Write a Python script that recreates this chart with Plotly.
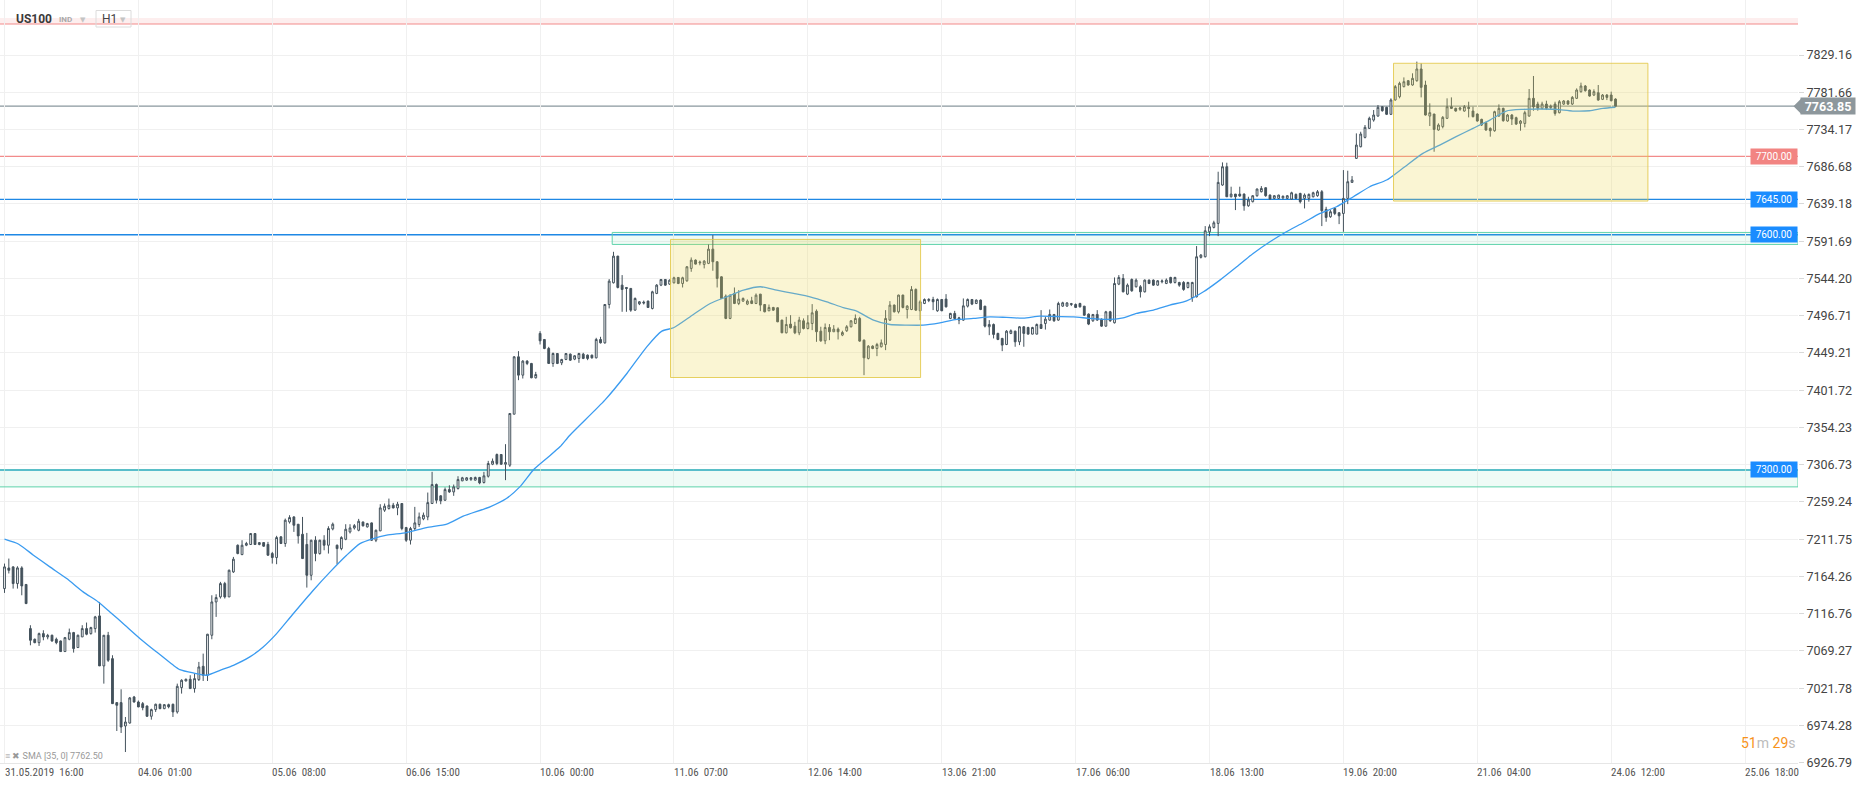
import plotly.graph_objects as go

# ---------------- data ----------------
open_ = [
 7148.7,7175.0,7176.4,7155.1,7175.1,7154.0,7097.7,7084.1,7079.8,7091.3,
 7087.0,7089.2,7084.1,7081.9,7068.4,7084.1,7092.6,7073.5,7087.1,7097.7,
 7091.3,7097.7,7113.9,7050.1,7089.2,7059.4,7003.3,7003.3,6973.5,6977.3,
 7010.5,7004.1,7002.0,6999.0,6985.9,6994.4,7001.2,6995.6,7000.7,7001.2,
 6991.4,7022.4,7030.9,7033.1,7021.2,7032.6,7049.6,7038.2,7089.2,7131.7,
 7138.1,7155.1,7138.1,7170.0,7204.0,7192.1,7204.0,7204.9,7218.9,7204.9,
 7207.4,7205.0,7193.4,7188.3,7214.7,7206.2,7233.7,7240.1,7230.8,7218.0,
 7205.0,7165.7,7210.4,7193.4,7210.4,7204.0,7224.8,7204.0,7199.7,7211.6,
 7221.0,7226.0,7223.1,7233.7,7227.4,7232.5,7210.4,7222.3,7248.7,7250.8,
 7255.1,7251.6,7257.2,7226.5,7210.4,7225.3,7230.4,7237.6,7240.1,7257.2,
 7281.4,7267.0,7261.4,7275.0,7272.0,7276.3,7286.1,7287.0,7288.0,7287.0,
 7290.4,7284.0,7292.0,7307.3,7319.7,7319.7,7307.3,7306.1,7371.1,7444.3,
 7420.9,7438.8,7435.8,7417.5,7474.1,7466.4,7454.9,7435.8,7448.5,7436.6,
 7440.9,7447.7,7441.3,7442.2,7447.7,7446.4,7446.4,7443.0,7466.4,7462.1,
 7511.0,7538.7,7572.7,7535.7,7532.7,7531.5,7503.8,7511.9,7514.0,7515.3,
 7505.9,7525.1,7535.7,7542.9,7537.0,7538.7,7545.5,7537.8,7541.2,7557.0,
 7567.6,7564.0,7562.1,7563.4,7581.6,7565.5,7546.3,7521.7,7493.2,7525.1,
 7512.3,7515.3,7511.5,7515.7,7512.3,7524.2,7511.0,7503.0,7507.2,7506.8,
 7491.1,7474.9,7486.0,7483.4,7474.9,7490.2,7480.4,7486.8,7502.5,7477.0,
 7464.7,7481.7,7476.2,7479.6,7472.0,7477.5,7482.6,7486.8,7493.2,7465.5,
 7442.2,7457.9,7454.9,7457.1,7460.0,7491.1,7510.2,7501.7,7523.0,7504.6,
 7504.6,7530.2,7503.0,7512.3,7516.0,7517.4,7503.0,7517.4,7517.9,7493.2,
 7499.6,7494.0,7491.1,7508.9,7517.4,7512.3,7516.6,7508.9,7482.6,7485.5,
 7474.1,7467.7,7460.0,7474.1,7477.0,7463.4,7482.6,7481.7,7473.2,7473.2,
 7485.5,7486.8,7491.1,7498.3,7491.1,7508.9,7509.0,7511.0,7511.0,7512.3,
 7508.9,7498.7,7490.2,7498.3,7492.3,7483.4,7501.7,7487.7,7537.0,7544.2,
 7524.2,7542.9,7533.6,7533.6,7527.2,7542.1,7542.1,7535.7,7540.0,7537.8,
 7545.5,7539.1,7539.1,7539.1,7532.7,7519.9,7520.8,7571.1,7571.9,7603.7,
 7609.3,7614.4,7663.3,7686.7,7648.4,7651.8,7651.8,7651.8,7636.9,7642.1,
 7649.7,7654.8,7659.9,7650.5,7646.3,7646.3,7647.0,7646.3,7645.4,7651.4,
 7652.6,7646.3,7646.3,7648.4,7649.7,7654.8,7632.3,7622.9,7633.5,7628.0,
 7627.1,7646.3,7666.7,7697.3,7712.2,7724.1,7735.6,7746.2,7751.3,7763.2,
 7762.4,7753.5,7771.8,7776.0,7788.8,7796.4,7790.9,7796.4,7811.3,7790.9,
 7751.3,7753.9,7733.5,7737.8,7748.4,7763.2,7761.1,7760.0,7757.7,7762.4,
 7757.7,7753.9,7747.1,7742.8,7735.6,7732.6,7751.3,7761.1,7745.0,7752.6,
 7749.2,7741.9,7741.9,7751.3,7773.9,7766.6,7761.1,7766.6,7762.0,7766.6,
 7755.6,7766.6,7770.5,7766.6,7773.9,7782.4,7789.6,7784.5,7778.1,7781.1,
 7772.6,7778.1,7778.1,7773.0]

high = [
 7180.6,7187.0,7177.2,7177.2,7177.2,7154.5,7102.0,7085.0,7092.6,7095.6,
 7091.0,7090.0,7086.2,7082.5,7087.0,7097.7,7093.5,7090.0,7102.0,7105.4,
 7100.0,7113.9,7131.7,7089.5,7093.5,7063.7,7003.5,7020.3,6985.0,7010.5,
 7011.8,7006.0,7004.1,6999.5,6995.6,7002.0,7002.0,7001.5,7002.0,7002.0,
 7027.5,7033.1,7033.9,7038.2,7040.3,7055.2,7065.8,7091.0,7140.2,7141.5,
 7157.3,7157.3,7173.0,7189.1,7205.0,7210.4,7208.3,7219.5,7219.5,7208.0,
 7208.0,7208.3,7195.5,7216.0,7215.5,7238.0,7242.3,7241.0,7231.0,7240.1,
 7219.7,7211.0,7215.5,7211.0,7216.8,7228.2,7232.9,7204.9,7215.5,7230.8,
 7230.8,7231.0,7237.6,7234.0,7232.5,7233.0,7224.0,7256.3,7257.2,7263.5,
 7258.0,7259.3,7257.5,7227.4,7227.4,7252.9,7245.7,7245.7,7271.2,7297.6,
 7282.7,7267.8,7277.6,7280.5,7281.4,7292.0,7291.2,7291.0,7291.0,7291.5,
 7291.2,7297.6,7311.6,7314.6,7321.0,7320.0,7332.9,7372.3,7445.1,7451.5,
 7440.0,7440.0,7436.5,7425.1,7477.0,7467.0,7457.0,7449.8,7449.0,7441.7,
 7449.0,7448.5,7446.4,7449.4,7449.4,7447.3,7447.0,7468.5,7469.8,7511.5,
 7543.4,7578.2,7573.0,7548.5,7533.0,7532.0,7520.0,7515.3,7516.0,7516.0,
 7528.5,7537.0,7543.4,7543.5,7543.0,7546.4,7546.0,7546.4,7560.0,7571.0,
 7568.5,7567.0,7567.6,7587.6,7599.5,7566.0,7547.0,7523.8,7523.8,7532.7,
 7529.3,7520.0,7517.4,7520.8,7525.1,7524.5,7511.5,7511.0,7508.0,7507.2,
 7491.5,7495.3,7497.4,7488.9,7495.3,7493.2,7497.4,7511.5,7504.7,7482.6,
 7486.8,7486.0,7484.7,7481.7,7477.5,7484.7,7491.0,7498.3,7495.3,7466.4,
 7459.2,7459.0,7462.1,7466.4,7503.8,7515.3,7511.0,7523.5,7523.5,7510.2,
 7534.4,7531.5,7516.6,7518.7,7519.0,7520.8,7518.7,7518.0,7524.2,7500.4,
 7502.9,7495.3,7518.7,7518.7,7517.9,7517.4,7517.4,7509.0,7491.1,7486.8,
 7475.0,7468.5,7478.3,7479.2,7477.5,7483.4,7483.4,7482.6,7482.5,7486.8,
 7503.8,7495.3,7504.6,7498.5,7514.5,7514.5,7514.0,7513.0,7512.3,7513.2,
 7509.0,7499.6,7498.7,7503.8,7493.2,7502.9,7502.9,7545.5,7548.5,7549.8,
 7537.8,7544.2,7544.2,7535.7,7542.9,7542.9,7542.9,7542.1,7543.0,7544.2,
 7546.3,7546.3,7539.9,7540.8,7539.9,7539.9,7585.5,7575.3,7611.0,7613.1,
 7617.8,7680.3,7692.2,7691.8,7661.2,7652.0,7661.2,7652.6,7648.4,7650.5,
 7659.0,7662.0,7660.3,7651.4,7650.5,7651.0,7650.0,7650.5,7654.8,7652.6,
 7653.5,7652.6,7652.6,7654.8,7656.9,7656.9,7635.6,7631.4,7634.4,7628.4,
 7682.4,7681.6,7674.8,7729.2,7731.3,7739.9,7750.5,7759.0,7765.4,7764.1,
 7763.2,7773.9,7790.9,7795.1,7800.6,7797.3,7805.8,7820.7,7818.5,7796.4,
 7767.5,7754.0,7742.0,7751.3,7773.9,7775.1,7762.0,7763.0,7765.4,7769.6,
 7763.2,7754.7,7747.9,7744.1,7736.9,7758.1,7766.2,7762.0,7753.9,7753.9,
 7750.5,7746.2,7758.1,7785.8,7802.4,7769.6,7769.6,7770.9,7766.0,7769.6,
 7771.7,7771.7,7771.7,7776.8,7786.6,7793.9,7790.9,7785.4,7785.4,7790.9,
 7779.4,7779.4,7782.4,7773.9]

low = [
 7143.2,7168.0,7148.7,7148.7,7140.2,7129.0,7076.4,7079.0,7075.6,7082.8,
 7084.0,7081.0,7077.7,7068.0,7068.0,7082.8,7067.1,7073.0,7087.0,7089.2,
 7090.0,7092.6,7050.0,7027.5,7055.2,7001.5,6967.1,6964.6,6940.3,6976.5,
 7003.3,6997.5,6993.5,6985.0,6981.6,6991.4,6995.0,6995.0,6996.0,6985.0,
 6989.3,7014.8,7030.5,7021.0,7016.0,7030.9,7030.9,7030.9,7084.1,7112.6,
 7136.0,7136.0,7138.0,7168.7,7192.5,7191.3,7202.8,7204.5,7204.5,7204.0,
 7202.0,7190.5,7180.6,7179.8,7205.5,7202.0,7231.6,7221.0,7206.1,7186.5,
 7150.0,7159.3,7183.6,7192.0,7197.6,7193.4,7223.0,7179.8,7197.6,7210.4,
 7219.0,7224.0,7221.8,7228.0,7226.5,7209.5,7208.0,7222.0,7246.5,7249.5,
 7251.0,7242.3,7223.1,7208.3,7204.9,7223.1,7227.4,7235.9,7235.9,7257.0,
 7257.2,7256.3,7260.6,7270.8,7267.0,7275.0,7285.7,7286.0,7286.0,7286.5,
 7281.8,7282.7,7290.3,7306.1,7306.1,7306.5,7287.0,7303.9,7371.0,7414.5,
 7416.6,7433.7,7417.0,7416.6,7460.0,7454.0,7435.5,7431.5,7435.0,7433.7,
 7440.0,7439.0,7440.0,7436.6,7441.3,7440.0,7442.0,7442.2,7461.3,7461.0,
 7506.0,7537.8,7531.5,7501.7,7501.7,7501.7,7503.0,7510.2,7511.0,7506.5,
 7504.7,7524.2,7534.4,7535.0,7536.0,7537.8,7537.0,7532.7,7540.0,7552.7,
 7562.0,7561.0,7557.0,7562.5,7554.0,7532.7,7518.0,7492.3,7492.3,7511.5,
 7510.2,7514.5,7510.2,7511.5,7511.5,7502.5,7501.0,7502.5,7503.0,7488.5,
 7474.5,7474.1,7480.4,7473.2,7471.9,7479.2,7479.2,7478.3,7463.4,7463.4,
 7460.4,7465.5,7476.0,7466.4,7470.6,7476.0,7481.7,7486.0,7463.4,7420.9,
 7440.9,7454.0,7445.1,7456.2,7452.8,7490.2,7500.8,7499.6,7506.0,7493.2,
 7503.8,7502.9,7491.1,7511.5,7514.0,7503.8,7501.7,7502.5,7507.2,7492.3,
 7492.3,7485.9,7490.2,7507.2,7510.2,7511.5,7503.8,7481.7,7471.9,7467.7,
 7465.5,7451.5,7459.2,7473.2,7457.1,7459.2,7457.1,7473.0,7473.0,7473.0,
 7480.0,7479.0,7490.2,7488.9,7490.2,7508.0,7508.0,7509.0,7506.8,7507.2,
 7496.6,7484.7,7488.9,7490.2,7482.6,7482.6,7488.9,7486.8,7535.7,7526.4,
 7523.0,7527.2,7532.7,7519.9,7526.3,7537.0,7534.9,7534.9,7538.0,7537.0,
 7537.8,7537.8,7533.6,7528.5,7531.5,7514.4,7520.0,7569.7,7571.0,7598.2,
 7608.0,7598.2,7662.4,7648.0,7647.5,7631.4,7648.4,7630.6,7635.6,7641.2,
 7648.4,7653.9,7648.4,7645.0,7645.4,7645.5,7645.0,7645.4,7645.0,7645.4,
 7639.9,7633.5,7642.1,7647.5,7648.4,7611.0,7616.5,7621.6,7625.0,7613.5,
 7603.7,7639.0,7666.3,7697.0,7711.4,7722.8,7734.8,7744.1,7750.5,7756.9,
 7752.6,7752.6,7770.9,7773.9,7787.9,7790.0,7790.0,7795.1,7775.1,7752.0,
 7738.6,7705.8,7732.6,7735.6,7747.5,7760.3,7756.9,7758.0,7756.9,7749.6,
 7749.6,7744.1,7738.6,7732.6,7725.0,7731.3,7750.5,7744.1,7744.1,7739.9,
 7739.9,7732.6,7736.9,7750.5,7758.1,7758.1,7759.8,7759.0,7760.0,7751.8,
 7754.7,7765.4,7765.4,7765.4,7773.0,7781.1,7782.4,7776.0,7776.8,7770.9,
 7771.7,7771.7,7770.0,7763.2]

close = [
 7176.4,7172.0,7155.1,7175.1,7152.1,7129.6,7082.8,7079.8,7091.3,7087.1,
 7089.0,7081.9,7079.8,7068.4,7086.2,7092.6,7072.2,7089.2,7097.7,7090.5,
 7099.0,7112.6,7050.1,7089.2,7057.3,7002.0,6999.9,6972.2,6978.6,7009.3,
 7004.1,6997.8,6996.9,6985.9,6994.4,7001.2,6995.6,7000.7,6998.0,6991.4,
 7024.1,7031.8,7033.1,7021.2,7033.9,7048.8,7038.2,7090.5,7131.7,7137.3,
 7155.1,7138.1,7172.1,7186.2,7193.4,7204.0,7206.2,7218.9,7204.9,7207.4,
 7202.8,7191.3,7188.3,7213.8,7206.2,7235.9,7239.3,7229.5,7215.9,7187.0,
 7165.7,7210.4,7193.4,7210.4,7204.0,7225.3,7230.8,7199.7,7213.8,7224.4,
 7226.1,7229.0,7234.6,7228.7,7231.6,7210.4,7223.1,7251.6,7253.8,7255.1,
 7251.6,7256.3,7225.3,7210.4,7225.3,7232.5,7240.1,7242.3,7258.4,7281.4,
 7261.4,7260.6,7275.0,7272.0,7278.4,7287.8,7290.0,7290.0,7290.0,7290.4,
 7283.5,7292.5,7308.2,7311.2,7308.2,7307.3,7309.5,7372.0,7444.3,7420.9,
 7438.8,7435.8,7417.5,7421.7,7464.7,7454.9,7435.8,7448.5,7435.8,7440.9,
 7448.5,7440.0,7445.6,7448.5,7442.2,7442.2,7443.0,7466.4,7462.1,7511.0,
 7540.8,7572.7,7532.7,7530.2,7531.5,7503.8,7518.7,7514.5,7513.0,7507.2,
 7527.2,7535.7,7542.9,7535.7,7542.0,7545.1,7537.8,7545.1,7559.1,7567.6,
 7562.5,7565.0,7566.3,7581.6,7565.5,7544.2,7518.7,7493.2,7522.9,7512.3,
 7517.9,7518.7,7515.3,7512.3,7522.9,7510.2,7501.7,7507.2,7503.8,7488.9,
 7474.9,7485.5,7481.3,7474.9,7491.1,7480.4,7487.7,7500.4,7476.2,7464.7,
 7481.7,7476.2,7479.6,7476.2,7475.3,7482.6,7490.2,7493.2,7464.3,7443.0,
 7457.9,7454.9,7460.0,7462.1,7493.2,7510.2,7501.7,7523.0,7507.2,7508.9,
 7530.2,7503.8,7514.5,7517.4,7517.5,7514.5,7517.4,7503.0,7508.0,7499.6,
 7493.2,7491.1,7509.3,7517.4,7511.5,7516.6,7504.6,7483.4,7485.5,7472.8,
 7466.4,7459.2,7477.0,7477.5,7463.4,7482.6,7474.1,7473.2,7481.7,7485.5,
 7480.4,7492.3,7498.3,7490.2,7512.3,7513.2,7513.0,7512.0,7507.2,7508.0,
 7497.4,7486.0,7498.3,7491.1,7483.4,7501.7,7490.2,7537.8,7545.5,7527.2,
 7535.7,7528.5,7542.1,7527.2,7542.1,7537.8,7535.7,7541.2,7541.0,7542.1,
 7538.7,7545.5,7535.7,7530.2,7539.1,7539.1,7571.9,7574.0,7605.0,7610.1,
 7615.2,7666.7,7686.7,7648.4,7651.8,7648.4,7649.3,7636.9,7644.2,7649.7,
 7658.2,7659.0,7649.7,7645.4,7649.7,7650.5,7649.0,7649.7,7653.5,7646.3,
 7642.1,7650.5,7651.4,7653.5,7654.8,7630.6,7622.0,7629.3,7627.1,7624.1,
 7646.3,7667.6,7669.7,7714.3,7728.4,7736.9,7748.4,7752.6,7762.4,7758.1,
 7753.5,7771.8,7788.8,7793.0,7795.1,7790.9,7799.4,7811.3,7787.9,7752.6,
 7755.6,7734.3,7739.9,7749.6,7763.2,7761.1,7757.7,7761.5,7763.2,7761.1,
 7750.5,7745.0,7739.9,7733.5,7732.6,7756.9,7761.1,7745.4,7752.6,7747.5,
 7741.1,7744.9,7755.6,7773.9,7763.0,7761.1,7766.6,7761.1,7764.0,7754.7,
 7769.6,7770.5,7766.6,7775.1,7784.5,7789.6,7783.7,7776.8,7782.4,7771.7,
 7778.1,7775.1,7770.9,7763.85]

candle_idx = list(range(len(close)))

# SMA(35) line at sample candle positions
sma_idx = [0, 3.3, 6.7, 10.5, 14.4, 18.2, 21.7, 24.4, 27.9, 31.4, 35.2, 39.1, 40.6, 43.7,
           46.8, 49.9, 53.0, 56.8, 59.9, 63.0, 66.6, 71.5, 75.4, 79.2, 82.3, 85.4, 88.5,
           93.1, 97.7, 102.4, 106.2, 112.4, 116.2, 119.3, 122.4, 125.5, 128.6, 130.9,
           139.0, 144.1, 148.7, 152.2, 154.9, 159.5, 163.4, 167.2, 171.1, 175.0, 178.8,
           182.7, 186.5, 190.4, 194.2, 197.3, 201.2, 205.0, 208.9, 212.7, 216.6, 220.5,
           224.3, 228.2, 232.0, 235.9, 239.7, 243.6, 247.5, 251.3, 255.2, 259.0, 262.1,
           266.0, 269.8, 273.7, 277.6, 281.4, 285.3, 289.1, 293.0, 296.8, 300.7, 304.6,
           308.4, 312.3, 316.1, 320.0, 323.8, 328.4, 332.3, 336.1, 340.0, 343.9, 347.7,
           351.6, 355.4, 359.3, 363.1, 367.0, 370.1, 373.0]
sma_val = [7211.7, 7205.3, 7191.3, 7176.4, 7161.5, 7144.5, 7131.7, 7119.0, 7102.0, 7084.9,
           7067.9, 7050.9, 7045.4, 7041.1, 7038.2, 7044.5, 7050.9, 7061.6, 7074.3, 7091.3,
           7115.0, 7146.6, 7170.0, 7191.2, 7206.1, 7212.5, 7216.8, 7220.2, 7226.5, 7230.8,
           7241.0, 7252.9, 7263.5, 7278.4, 7299.7, 7314.6, 7329.5, 7344.3, 7389.0, 7423.0,
           7457.0, 7477.0, 7481.3, 7498.3, 7512.3, 7520.8, 7529.3, 7533.6, 7529.3, 7525.1,
           7520.8, 7514.4, 7507.0, 7502.5, 7491.1, 7485.5, 7484.7, 7484.7, 7487.7, 7491.9,
           7493.2, 7495.3, 7494.5, 7493.6, 7496.2, 7495.7, 7495.3, 7493.2, 7491.9, 7494.0,
           7499.6, 7503.8, 7510.2, 7515.7, 7527.2, 7542.1, 7559.1, 7576.1, 7591.0, 7603.8,
           7615.2, 7627.1, 7635.6, 7648.4, 7661.2, 7669.7, 7685.0, 7703.7, 7714.3, 7725.0,
           7735.6, 7746.2, 7757.7, 7759.8, 7760.3, 7759.8, 7757.7, 7758.1, 7761.1, 7762.5]

tick_idx = [0, 31, 62, 93, 124, 155, 186, 217, 248, 279, 310, 341, 372, 403]
tick_labels = ["31.05.2019  16:00", "04.06  01:00", "05.06  08:00", "06.06  15:00",
               "10.06  00:00", "11.06  07:00", "12.06  14:00", "13.06  21:00",
               "17.06  06:00", "18.06  13:00", "19.06  20:00", "21.06  04:00",
               "24.06  12:00", "25.06  18:00"]

y_ticks = [6926.79, 6974.28, 7021.78, 7069.27, 7116.76, 7164.26, 7211.75, 7259.24,
           7306.73, 7354.23, 7401.72, 7449.21, 7496.71, 7544.20, 7591.69, 7639.18,
           7686.68, 7734.17, 7781.66, 7829.16]

level_top = 7868.7
level_top_band = 7876.4
level_red = 7700.00
levels_blue = [7645.00, 7600.00, 7300.00]
last_price = 7763.85
sma_last = 7762.50
zone_low = (7278.4, 7300.0)          # full width zone
zone_high = (140.7, 7587.6, 7602.9)  # start candle, bottom, top
box_a = (154.2, 212.1, 7417.9, 7594.0)
box_b = (321.6, 380.5, 7642.9, 7818.6)
timer_min, timer_sec = "51", "29"

# ---------------- layout helpers ----------------
W, H = 1866, 788
PLOT_W, PLOT_H = 1798, 763
X_RANGE = [-1.042, 415.25]
Y_RANGE = [6926.3, 7899.3]


def px(x):
    return x / PLOT_W


def py(y):
    return 1 - y / PLOT_H


CANDLE = "#44525c"
BLUE = "#1e88e5"
RED = "#f28b8b"
GREEN_LINE = "#5fd3ab"
GREEN_FILL = "rgba(95,211,171,0.10)"
YELLOW_FILL = "rgba(236,214,80,0.25)"
YELLOW_LINE = "rgba(226,200,70,0.85)"

fig = go.Figure()

fig.add_trace(go.Candlestick(
    x=candle_idx, open=open_, high=high, low=low, close=close,
    increasing=dict(line=dict(color=CANDLE, width=1), fillcolor="white"),
    decreasing=dict(line=dict(color=CANDLE, width=1), fillcolor=CANDLE),
    whiskerwidth=0, showlegend=False, name="US100"))

fig.add_trace(go.Scatter(
    x=sma_idx, y=sma_val, mode="lines",
    line=dict(color="#3a9bf0", width=1.3, shape="spline", smoothing=0.6),
    showlegend=False, hoverinfo="skip", name="SMA"))

shapes = []
# top pink band + red line
shapes.append(dict(type="rect", xref="paper", yref="y", x0=0, x1=1,
                   y0=level_top, y1=level_top_band, fillcolor="rgba(242,139,139,0.15)",
                   line=dict(width=0), layer="between"))
shapes.append(dict(type="line", xref="paper", yref="y", x0=0, x1=1,
                   y0=level_top, y1=level_top, line=dict(color=RED, width=1), layer="between"))
# green zones
shapes.append(dict(type="rect", xref="x", yref="y", x0=X_RANGE[0] - 1, x1=X_RANGE[1],
                   y0=zone_low[0], y1=zone_low[1], fillcolor=GREEN_FILL,
                   line=dict(color=GREEN_LINE, width=1), layer="between"))
shapes.append(dict(type="rect", xref="x", yref="y", x0=zone_high[0], x1=X_RANGE[1],
                   y0=zone_high[1], y1=zone_high[2], fillcolor=GREEN_FILL,
                   line=dict(color=GREEN_LINE, width=1), layer="between"))
# levels
for lv in levels_blue:
    shapes.append(dict(type="line", xref="paper", yref="y", x0=0, x1=1, y0=lv, y1=lv,
                       line=dict(color=BLUE, width=1.4), layer="between"))
shapes.append(dict(type="line", xref="paper", yref="y", x0=0, x1=1, y0=level_red, y1=level_red,
                   line=dict(color=RED, width=1.2), layer="between"))
shapes.append(dict(type="line", xref="paper", yref="y", x0=0, x1=1, y0=last_price, y1=last_price,
                   line=dict(color="#8a979e", width=1.2), layer="between"))
# yellow boxes above data
for bx in (box_a, box_b):
    shapes.append(dict(type="rect", xref="x", yref="y", x0=bx[0], x1=bx[1], y0=bx[2], y1=bx[3],
                       fillcolor=YELLOW_FILL, line=dict(color=YELLOW_LINE, width=1), layer="above"))
# header timeframe box
shapes.append(dict(type="rect", xref="paper", yref="paper", x0=px(96), x1=px(131),
                   y0=py(27), y1=py(10.5), line=dict(color="#dcdcdc", width=1),
                   fillcolor="rgba(0,0,0,0)", layer="above"))
# arrow of current price tag
shapes.append(dict(type="path", xref="paper", yref="y",
                   path=f"M {px(1793.5)},{last_price} L {px(1801)},{last_price + 9.6} "
                        f"L {px(1801)},{last_price - 9.6} Z",
                   fillcolor="#8d979c", line=dict(width=0), layer="above"))

ann = []
# x tick labels (left aligned at grid lines)
for ti, tl in zip(tick_idx, tick_labels):
    ann.append(dict(x=ti, xref="x", y=0, yref="paper", yanchor="top", xanchor="left",
                    xshift=-2, yshift=-1, text=tl, showarrow=False,
                    font=dict(family="Liberation Sans Narrow, Roboto Condensed, DejaVu Sans Condensed, Roboto",
                              size=11, color="#555")))
# level tags on the right
for lv, col in [(level_red, "#f28482"), (levels_blue[0], "#1a8cff"),
                (levels_blue[1], "#1a8cff"), (levels_blue[2], "#1a8cff")]:
    ann.append(dict(x=1, xref="paper", y=lv, yref="y", xanchor="right", yanchor="middle",
                    text=f"{lv:.2f}", showarrow=False, bgcolor=col, width=44, height=13,
                    borderpad=1, font=dict(family="Roboto", size=10, color="white")))
# current price tag
ann.append(dict(x=px(1800), xref="paper", y=last_price, yref="y", xanchor="left", yanchor="middle",
                text=f"<b>{last_price:.2f}</b>", showarrow=False, bgcolor="#8d979c",
                width=52, height=14, borderpad=1,
                font=dict(family="Roboto", size=12.5, color="white")))
# header
ann.append(dict(x=px(14), y=py(19), xref="paper", yref="paper", xanchor="left", yanchor="middle",
                text="<b>US100</b>", showarrow=False, font=dict(family="Roboto", size=12, color="#3a3a3a")))
ann.append(dict(x=px(57), y=py(19), xref="paper", yref="paper", xanchor="left", yanchor="middle",
                text="<b>IND</b>", showarrow=False, font=dict(family="Roboto", size=8, color="#aaaaaa")))
ann.append(dict(x=px(83), y=py(19.5), xref="paper", yref="paper", xanchor="center", yanchor="middle",
                text="▼", showarrow=False, font=dict(family="DejaVu Sans", size=7, color="#c4c4c4")))
ann.append(dict(x=px(100), y=py(19), xref="paper", yref="paper", xanchor="left", yanchor="middle",
                text="H1", showarrow=False, font=dict(family="Roboto", size=12, color="#444")))
ann.append(dict(x=px(123), y=py(19.5), xref="paper", yref="paper", xanchor="center", yanchor="middle",
                text="▼", showarrow=False, font=dict(family="DejaVu Sans", size=7, color="#c4c4c4")))
# SMA legend
ann.append(dict(x=px(3), y=py(756), xref="paper", yref="paper", xanchor="left", yanchor="middle",
                text=f"≡ ✖ SMA [35, 0] {sma_last:.2f}", showarrow=False,
                font=dict(family="Liberation Sans Narrow, Roboto", size=9, color="#999")))
# candle timer
ann.append(dict(x=1, y=py(743), xref="paper", yref="paper", xanchor="right", yanchor="middle",
                text=(f'<span style="color:#f7931a">{timer_min}</span><span style="color:#bcbcbc">m</span> '
                      f'<span style="color:#f7931a">{timer_sec}</span><span style="color:#bcbcbc">s</span>'),
                showarrow=False, font=dict(family="Roboto", size=14)))

fig.update_layout(
    width=W, height=H,
    margin=dict(l=0, r=W - PLOT_W, t=0, b=H - PLOT_H),
    paper_bgcolor="white", plot_bgcolor="white",
    boxgap=0.4,
    shapes=shapes, annotations=ann,
    showlegend=False, hovermode=False,
    xaxis=dict(range=X_RANGE, rangeslider=dict(visible=False), tickvals=tick_idx,
               showticklabels=False, showgrid=True, gridcolor="#f0f0f0", gridwidth=1,
               zeroline=False, showline=True, linecolor="#e6e6e6", ticks="", automargin=False,
               fixedrange=True),
    yaxis=dict(range=Y_RANGE, side="right", tickvals=y_ticks, tickformat=".2f",
               showgrid=True, gridcolor="#f0f0f0", gridwidth=1, zeroline=False,
               ticks="outside", ticklen=5, tickcolor="#d8d8d8", showline=False,
               tickfont=dict(family="Roboto", size=12.5, color="#444"), automargin=False,
               fixedrange=True),
)

fig.write_html("out.html", config={"displayModeBar": False},
               post_script="document.body.style.margin='0';document.body.style.overflow='hidden';")
